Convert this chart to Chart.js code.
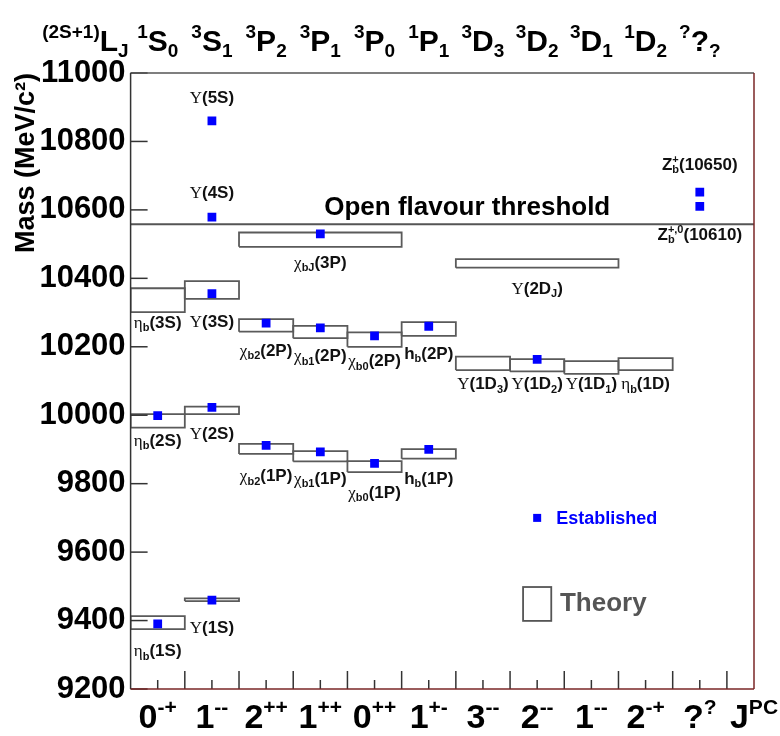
<!DOCTYPE html>
<html>
<head>
<meta charset="utf-8">
<script src="https://cdn.jsdelivr.net/npm/chart.js@4.4.0/dist/chart.umd.min.js"></script>
<style>
html, body { margin: 0; padding: 0; background: #fff; }
canvas { display: block; }
</style>
</head>
<body>
<canvas id="myChart" width="780" height="736"></canvas>
<script>
// columns: J^PC along the bottom, spectroscopic notation along the top
const jpcLabels = ['0^{-+}', '1^{--}', '2^{++}', '1^{++}', '0^{++}', '1^{+-}', '3^{--}', '2^{--}', '1^{--}', '2^{-+}', '?^{?}'];
const waveLabels = ['^{1}S_{0}', '^{3}S_{1}', '^{3}P_{2}', '^{3}P_{1}', '^{3}P_{0}', '^{1}P_{1}', '^{3}D_{3}', '^{3}D_{2}', '^{3}D_{1}', '^{1}D_{2}', '^{?}?_{?}'];
const yTickValues = [9200, 9400, 9600, 9800, 10000, 10200, 10400, 10600, 10800, 11000];

// established states (blue squares): column index and mass in MeV/c^2
const stateColumn = [0, 1, 0, 1, 1, 1, 1, 2, 3, 4, 5, 2, 3, 4, 5, 3, 7, 10, 10];
const stateMass = [9390, 9460, 9999, 10023, 10355, 10579, 10860, 9912, 9893, 9859, 9900, 10269, 10255, 10232, 10260, 10530, 10163, 10652, 10610];

// theory predictions (open boxes): column span and mass range
const theoryFrom = [0, 1, 0, 1, 0, 1, 2, 3, 4, 5, 2, 3, 4, 5, 2, 6, 7, 8, 9, 6];
const theoryTo   = [1, 2, 1, 2, 1, 2, 3, 4, 5, 6, 3, 4, 5, 6, 5, 7, 8, 9, 10, 9];
const theoryLow  = [9375, 9457, 9964, 10003, 10301, 10340, 9887, 9865, 9834, 9873, 10244, 10225, 10200, 10232, 10492, 10132, 10128, 10121, 10132, 10431];
const theoryHigh = [9413, 9465, 10003, 10025, 10371, 10392, 9916, 9895, 9866, 9901, 10281, 10261, 10242, 10272, 10534, 10171, 10164, 10158, 10167, 10456];

const openFlavourThreshold = 10558;

// state names, placed at (column position, mass)
const stateLabels = [
    ['Υ(5S)', 1.5, 10930],
    ['Υ(4S)', 1.5, 10652],
    ['χ_{bJ}(3P)', 3.5, 10448],
    ['Υ(2D_{J})', 7.5, 10372],
    ['η_{b}(3S)', 0.5, 10273],
    ['Υ(3S)', 1.5, 10275],
    ['χ_{b2}(2P)', 2.5, 10191],
    ['χ_{b1}(2P)', 3.5, 10176],
    ['χ_{b0}(2P)', 4.5, 10161],
    ['h_{b}(2P)', 5.5, 10182],
    ['η_{b}(2S)', 0.5, 9928],
    ['Υ(2S)', 1.5, 9948],
    ['χ_{b2}(1P)', 2.5, 9825],
    ['χ_{b1}(1P)', 3.5, 9817],
    ['χ_{b0}(1P)', 4.5, 9776],
    ['h_{b}(1P)', 5.5, 9817],
    ['η_{b}(1S)', 0.5, 9314],
    ['Υ(1S)', 1.5, 9381],
    ['Υ(1D_{3})', 6.5, 10094],
    ['Υ(1D_{2})', 7.5, 10094],
    ['Υ(1D_{1})', 8.5, 10094],
    ['η_{b}(1D)', 9.5, 10094],
    ['Z_{b}^{+}(10650)', 10.5, 10735],
    ['Z_{b}^{+,0}(10610)', 10.5, 10530]
];

function fontFor(ch, size) {
    if ('Υηχ'.indexOf(ch) >= 0) {
        return size + 'px "Liberation Serif", serif';
    }
    return 'bold ' + size + 'px "Liberation Sans", Arial, sans-serif';
}

// tiny markup: _{..} subscript, ^{..} superscript
function parseRich(str) {
    var segs = [];
    var i = 0;
    while (i < str.length) {
        var c = str[i];
        if ((c === '_' || c === '^') && str[i + 1] === '{') {
            var end = str.indexOf('}', i);
            segs.push({ t: str.slice(i + 2, end), k: c === '_' ? 'sub' : 'sup' });
            i = end + 1;
        } else {
            var last = segs[segs.length - 1];
            if (last && last.k === 'n') last.t += c;
            else segs.push({ t: c, k: 'n' });
            i++;
        }
    }
    return segs;
}

function drawRich(ctx, str, x, y, size, align, color) {
    var segs = parseRich(str);
    var small = Math.round(size * 0.62);
    var items = [];
    var pen = 0, prev = null, prevStart = 0, prevW = 0;
    segs.forEach(function(s) {
        var sz = s.k === 'n' ? size : small;
        var shift = s.k === 'sub' ? size * 0.2 : (s.k === 'sup' ? -size * 0.42 : 0);
        var stacked = prev && prev.k !== 'n' && s.k !== 'n' && prev.k !== s.k;
        var start = stacked ? prevStart : pen;
        var w = 0;
        for (var ch of s.t) {
            var f = fontFor(ch, sz);
            ctx.font = f;
            items.push({ ch: ch, font: f, x: start + w, shift: shift });
            w += ctx.measureText(ch).width;
        }
        pen = stacked ? start + Math.max(w, prevW) : start + w;
        prev = s; prevStart = start; prevW = w;
    });
    var x0 = align === 'center' ? x - pen / 2 : (align === 'right' ? x - pen : x);
    var base = y + size * 0.36;
    ctx.save();
    ctx.fillStyle = color || '#000';
    ctx.textBaseline = 'alphabetic';
    ctx.textAlign = 'left';
    items.forEach(function(it) {
        ctx.font = it.font;
        ctx.fillText(it.ch, x0 + it.x, base + it.shift);
    });
    ctx.restore();
}

function line(ctx, x1, y1, x2, y2) {
    ctx.beginPath();
    ctx.moveTo(x1, y1);
    ctx.lineTo(x2, y2);
    ctx.stroke();
}

const decorations = {
    id: 'decorations',
    beforeDraw: function(chart) {
        var ctx = chart.ctx;
        ctx.save();
        ctx.fillStyle = '#fff';
        ctx.fillRect(0, 0, chart.width, chart.height);
        ctx.restore();
    },
    beforeDatasetsDraw: function(chart) {
        var ctx = chart.ctx, a = chart.chartArea, y = chart.scales.y;
        ctx.save();
        ctx.strokeStyle = '#555';
        ctx.lineWidth = 2;
        var ty = y.getPixelForValue(openFlavourThreshold);
        line(ctx, a.left, ty, a.right, ty);
        ctx.restore();
    },
    afterDatasetsDraw: function(chart) {
        var ctx = chart.ctx, a = chart.chartArea;
        var x = chart.scales.x, y = chart.scales.y;
        ctx.save();

        // ticks drawn inside the frame
        ctx.strokeStyle = '#333';
        ctx.lineWidth = 1.5;
        yTickValues.forEach(function(v) {
            var py = y.getPixelForValue(v);
            line(ctx, a.left, py, a.left + 17, py);
        });
        for (var i = 0; i < jpcLabels.length; i++) {
            var pm = x.getPixelForValue(i + 0.5);
            line(ctx, pm, a.bottom, pm, a.bottom - 9);
            var pM = x.getPixelForValue(i + 1);
            line(ctx, pM, a.bottom, pM, a.bottom - 18);
        }

        // frame
        ctx.strokeStyle = '#555';
        line(ctx, a.left, a.top, a.right, a.top);
        ctx.strokeStyle = '#333';
        line(ctx, a.left, a.top, a.left, a.bottom);
        ctx.strokeStyle = '#7a2626';
        line(ctx, a.left, a.bottom, a.right, a.bottom);
        line(ctx, a.right, a.top, a.right, a.bottom);

        // column labels
        jpcLabels.forEach(function(t, i) {
            drawRich(ctx, t, x.getPixelForValue(i + 0.5), a.bottom + 27, 34, 'center');
        });
        drawRich(ctx, 'J^{PC}', x.getPixelForValue(11.5), a.bottom + 27, 34, 'center');
        waveLabels.forEach(function(t, i) {
            drawRich(ctx, t, x.getPixelForValue(i + 0.5), a.top - 33, 30, 'center');
        });
        drawRich(ctx, '^{(2S+1)}L_{J}', a.left - 2, a.top - 33, 30, 'right');

        // state names
        stateLabels.forEach(function(l) {
            drawRich(ctx, l[0], x.getPixelForValue(l[1]), y.getPixelForValue(l[2]), 17, 'center', '#111');
        });
        drawRich(ctx, 'Open flavour threshold', x.getPixelForValue(6.21), y.getPixelForValue(10611), 26, 'center');

        // legend
        var lx = x.getPixelForValue(7.5), ly = y.getPixelForValue(9700);
        ctx.fillStyle = '#0000ff';
        ctx.fillRect(lx - 4, ly - 4, 8, 8);
        drawRich(ctx, 'Established', x.getPixelForValue(7.85), ly, 18, 'left', '#0000ff');
        ctx.strokeStyle = '#555';
        ctx.lineWidth = 1.8;
        var bx1 = x.getPixelForValue(7.24), bx2 = x.getPixelForValue(7.76);
        var by1 = y.getPixelForValue(9498), by2 = y.getPixelForValue(9399);
        ctx.strokeRect(bx1, by1, bx2 - bx1, by2 - by1);
        drawRich(ctx, 'Theory', x.getPixelForValue(7.92), y.getPixelForValue(9454), 26, 'left', '#555');

        ctx.restore();
    }
};

const datasets = [{
    label: 'Established',
    data: stateMass.map(function(m, i) { return { x: stateColumn[i] + 0.5, y: m }; }),
    pointStyle: 'rect',
    pointRadius: 6.2,
    pointHoverRadius: 6.2,
    backgroundColor: '#0000ff',
    borderWidth: 0,
    showLine: false,
    order: 0
}];

theoryLow.forEach(function(lo, i) {
    var hi = theoryHigh[i], x1 = theoryFrom[i], x2 = theoryTo[i];
    datasets.push({
        label: 'Theory',
        data: [{ x: x1, y: lo }, { x: x2, y: lo }, { x: x2, y: hi }, { x: x1, y: hi }, { x: x1, y: lo }],
        showLine: true,
        borderColor: '#5a5a5a',
        borderWidth: 1.8,
        borderJoinStyle: 'miter',
        pointRadius: 0,
        pointHoverRadius: 0,
        fill: false,
        tension: 0,
        order: 1
    });
});

const myChart = new Chart(document.getElementById('myChart'), {
    type: 'scatter',
    data: { datasets: datasets },
    plugins: [decorations],
    options: {
        responsive: false,
        animation: false,
        devicePixelRatio: 1,
        layout: { padding: { top: 73, right: 26, bottom: 47, left: 0 } },
        plugins: { legend: { display: false }, tooltip: { enabled: false } },
        scales: {
            x: { type: 'linear', min: 0, max: 11.5, display: false },
            y: {
                type: 'linear',
                min: 9200,
                max: 11000,
                afterFit: function(s) { s.width = 130.6; },
                afterBuildTicks: function(s) {
                    s.ticks = yTickValues.map(function(v) { return { value: v }; });
                },
                grid: { display: false, drawTicks: false },
                border: { display: false },
                ticks: {
                    color: '#000',
                    padding: 5,
                    font: { family: '"Liberation Sans", Arial, sans-serif', size: 31, weight: 'bold' },
                    callback: function(v) { return String(v); }
                },
                title: {
                    display: true,
                    text: 'Mass (MeV/c²)',
                    align: 'end',
                    color: '#000',
                    font: { family: '"Liberation Sans", Arial, sans-serif', size: 27, weight: 'bold' },
                    padding: { top: 10, bottom: 0 }
                }
            }
        }
    }
});
</script>
</body>
</html>
